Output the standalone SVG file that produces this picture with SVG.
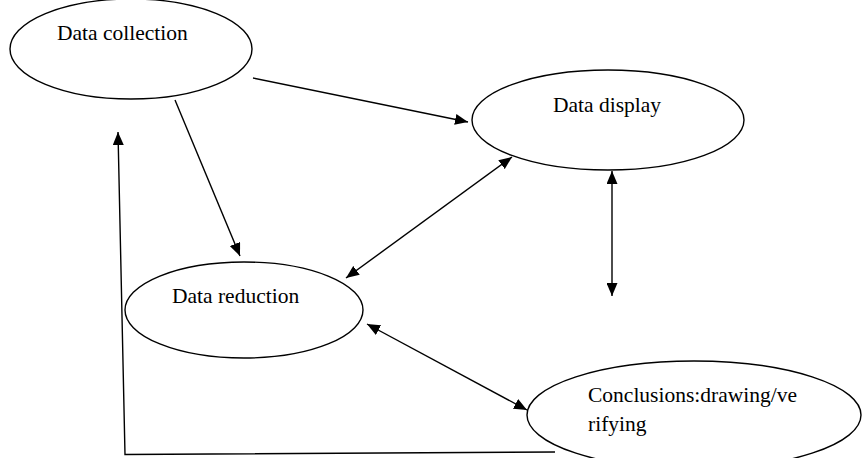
<svg xmlns="http://www.w3.org/2000/svg" width="862" height="458" viewBox="0 0 862 458">
<style>
.node ellipse{fill:#fff;stroke:#000;stroke-width:1.4}
.node text{font-family:"Liberation Serif","Times New Roman",serif;font-size:21.5px;fill:#000}
#connectors line,#connectors polyline{stroke:#000;stroke-width:1.4;fill:none}
</style>
<defs>
<marker id="ah" viewBox="0 0 13 11" refX="13" refY="5.5" markerWidth="13" markerHeight="11" markerUnits="userSpaceOnUse" orient="auto-start-reverse">
<path d="M0,0 L13,5.5 L0,11 Z" fill="#000"/>
</marker>
</defs>
<rect width="862" height="458" fill="#fff"/>
<g id="data-collection" class="node">
<ellipse cx="131" cy="49" rx="121" ry="50"/>
<text x="57" y="40">Data collection</text>
</g>
<g id="data-display" class="node">
<ellipse cx="608" cy="120" rx="136" ry="50"/>
<text x="553" y="112">Data display</text>
</g>
<g id="data-reduction" class="node">
<ellipse cx="244" cy="310" rx="119" ry="48"/>
<text x="172" y="303">Data reduction</text>
</g>
<g id="conclusions" class="node">
<ellipse cx="694" cy="415" rx="167" ry="54"/>
<text x="588" y="402">Conclusions:drawing/ve</text>
<text x="588" y="431">rifying</text>
</g>
<g id="connectors">
<line x1="253" y1="78" x2="468" y2="122" marker-end="url(#ah)"/>
<line x1="175" y1="100" x2="240" y2="256" marker-end="url(#ah)"/>
<line x1="512" y1="157" x2="346" y2="278" marker-start="url(#ah)" marker-end="url(#ah)"/>
<line x1="612" y1="171" x2="612" y2="296" marker-start="url(#ah)" marker-end="url(#ah)"/>
<line x1="367" y1="324" x2="527" y2="410" marker-start="url(#ah)" marker-end="url(#ah)"/>
<polyline points="555,452 125,454.5 118,132" marker-end="url(#ah)"/>
</g>
</svg>
